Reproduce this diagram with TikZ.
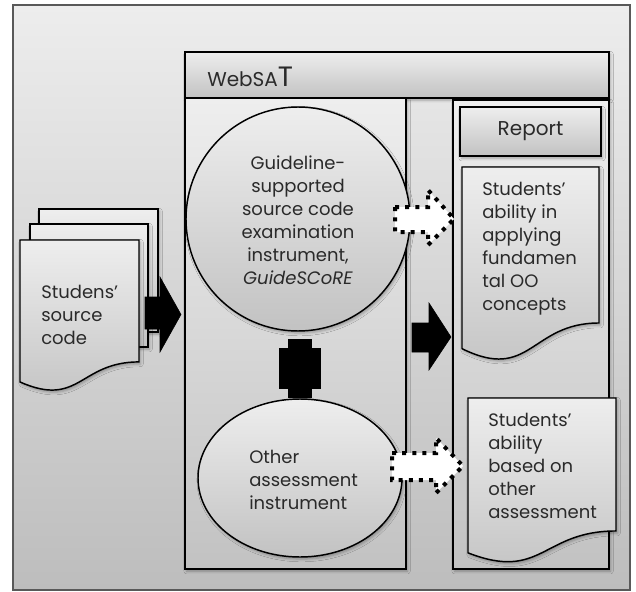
\documentclass[tikz,border=0pt]{standalone}
\usepackage{fontspec}
\setmainfont{Poppins}
\usetikzlibrary{shapes.geometric,shadows.blur}

\definecolor{frameTop}{HTML}{EDEDED}
\definecolor{frameBot}{HTML}{BDBDBD}
\definecolor{panelTop}{HTML}{EEEEEE}
\definecolor{panelBot}{HTML}{C2C2C2}
\definecolor{ink}{HTML}{2A2A2A}

% wavy-bottom document: style, left, top, width, height
\newcommand{\wavydoc}[5]{%
  \path[#1] (#2,#3) -- ({#2+#4},#3) -- ({#2+#4},{#3+0.802*#5})
    .. controls ({#2+0.5*#4},{#3+0.802*#5}) and ({#2+0.5*#4},{#3+1.1075*#5})
    .. (#2,{#3+0.934*#5}) -- cycle;}

\begin{document}
\begin{tikzpicture}[x=0.75pt,y=-0.75pt,line join=miter,
  softshadow/.style={blur shadow={shadow xshift=1.2pt,shadow yshift=-1.6pt,
      shadow blur radius=2pt,shadow opacity=30}},
  panel/.style={draw=black,line width=1.1pt,top color=panelTop,bottom color=panelBot,softshadow},
  docbox/.style={draw=black,line width=1.1pt,top color=#1,bottom color=panelBot,softshadow},
  docbox/.default=panelTop,
  label/.style={inner sep=0pt,text=ink,font=\fontsize{13.5}{17.25}\selectfont},
  solidarrow/.style={fill=black,draw=black,line width=0.4pt},
  dotarrow/.style={fill=white,draw=black,line width=3pt,dash pattern=on 3pt off 4.6pt,line join=miter}]

\useasboundingbox (0,0) rectangle (636,592);

% outer frame
\path[draw=black!65,line width=0.9pt,top color=frameTop,bottom color=frameBot] (13,5) rectangle (630,590);

% WebSAT header and columns
\path[panel] (185,52) rectangle (609,98);
\node[label,anchor=base west,font=\fontsize{15}{15}\selectfont] (title) at (207,87)
  {WebSA{\fontsize{21}{21}\selectfont T}};
\path[panel] (185,98) rectangle (406,569);
\path[panel] (453,100) rectangle (609,569);

% report heading
\path[panel] (460,107) rectangle (601,156);
\node[label,font=\fontsize{15}{15}\selectfont] (report) at (530.5,131.5) {Report};

% instruments
\node[circle,draw=black,line width=1.1pt,top color=panelTop,bottom color=panelBot,softshadow,
  minimum size=168pt,inner sep=0pt] (guide) at (298,219) {};
\node[label,align=center] (guidetext) at (298,220.5)
  {Guideline-\\supported\\source code\\examination\\instrument,\\\textit{GuideSCoRE}};

\node[ellipse,draw=black,line width=1.1pt,top color=panelTop,bottom color=panelBot,softshadow,
  minimum width=153pt,minimum height=118.5pt,inner sep=0pt] (other) at (300,478) {};
\node[label,align=left,anchor=west] (othertext) at (249,480)
  {Other\\assessment\\instrument};

% report documents
\wavydoc{docbox}{462}{167}{137}{194.5}
\node[label,align=left,anchor=north west] (ootext) at (482,182)
  {Students’\\ability in\\applying\\fundamen\\tal OO\\concepts};

\wavydoc{docbox}{468}{398}{148}{165.8}
\node[label,align=left,anchor=north west] (othertextb) at (488,413)
  {Students’\\ability\\based on\\other\\assessment};

% stack of source code documents
\path[docbox] (39,209) rectangle (158,332);
\path[docbox] (30,224) rectangle (148,347);
\wavydoc{docbox}{20}{240}{119}{152}
\node[label,align=left,anchor=north west] (srctext) at (41,285)
  {Studens’\\source\\code};

% solid block arrows
\path[solidarrow] (145,297) -- (160,297) -- (160,277) -- (181,314.5) -- (160,352) -- (160,329) -- (145,329) -- cycle;
\path[solidarrow] (412,323) -- (429,323) -- (429,303) -- (451,337) -- (429,370) -- (429,352) -- (412,352) -- cycle;

% two-way link between the instruments
\path[solidarrow] (288,339) -- (311,339) -- (311,348) -- (320,348) -- (320,388) -- (311,388)
  -- (311,397) -- (288,397) -- (288,388) -- (279,388) -- (279,348) -- (288,348) -- cycle;

% dotted result arrows
\path[dotarrow] (395,207) -- (428,207) -- (428,190) -- (454,219) -- (428,245) -- (428,232) -- (395,232) -- cycle;
\path[dotarrow] (392,453) -- (436,453) -- (436,438) -- (463,466) -- (436,493) -- (436,480) -- (392,480) -- cycle;

\end{tikzpicture}
\end{document}
